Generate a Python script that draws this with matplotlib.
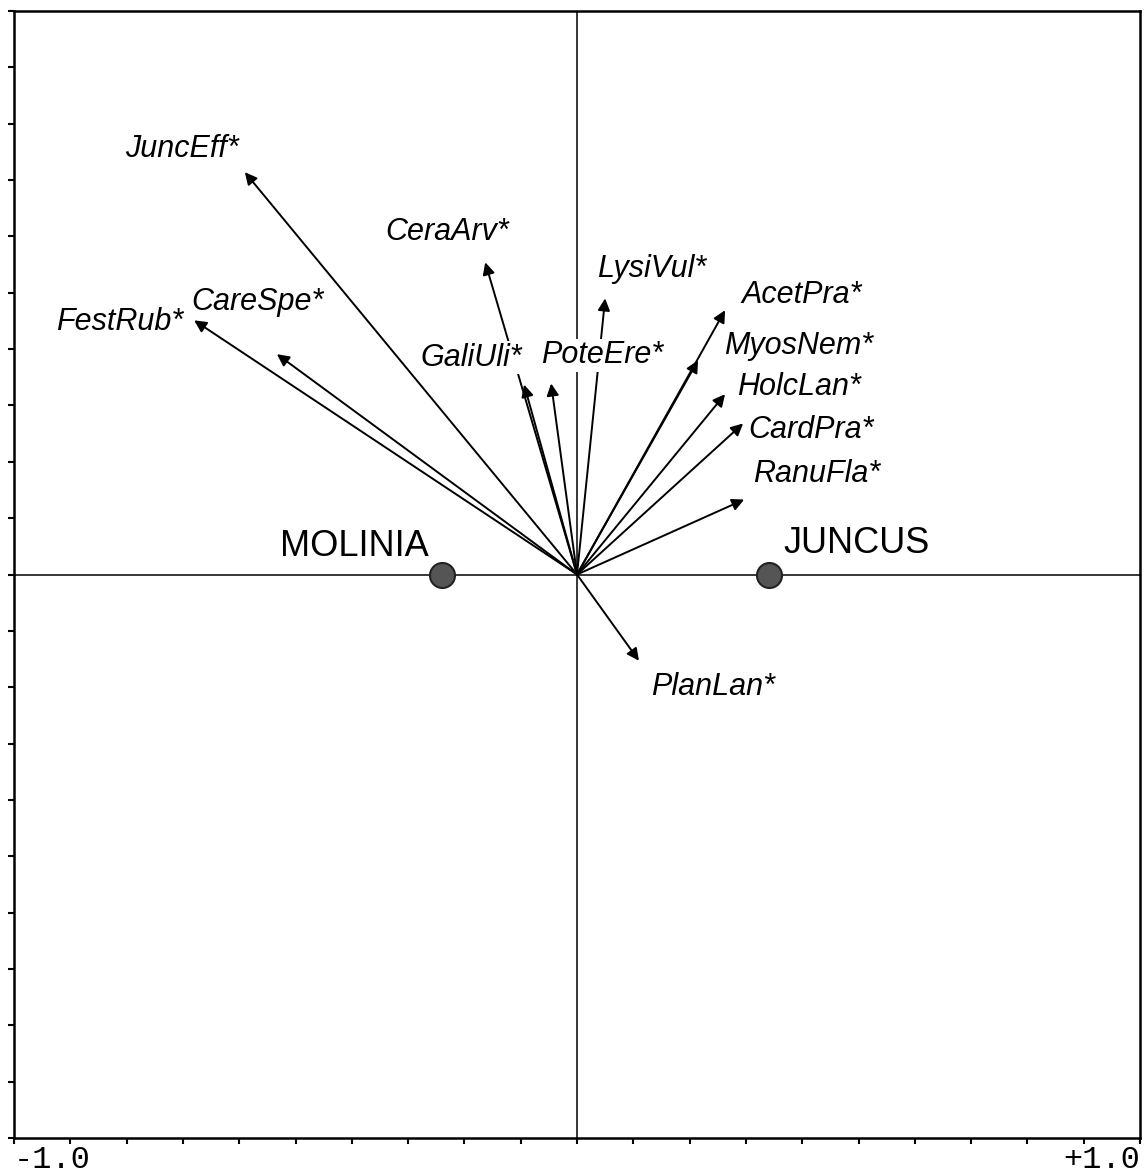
import matplotlib
matplotlib.use("Agg")
import matplotlib.pyplot as plt

# Species arrows (CCA biplot scores)
species = ["JuncEff*", "CeraArv*", "GaliUli*", "PoteEre*", "LysiVul*", "AcetPra*",
           "MyosNem*", "HolcLan*", "CardPra*", "RanuFla*", "FestRub*", "CareSpe*", "PlanLan*"]
species_x = [-0.590, -0.163, -0.094, -0.046, 0.050, 0.263,
             0.215, 0.263, 0.295, 0.297, -0.680, -0.533, 0.110]
species_y = [0.714, 0.554, 0.337, 0.339, 0.490, 0.469,
             0.380, 0.320, 0.268, 0.133, 0.451, 0.391, -0.153]
label_x = [-0.702, -0.231, -0.188, 0.044, 0.133, 0.400,
           0.394, 0.394, 0.416, 0.425, -0.812, -0.567, 0.242]
label_y = [0.755, 0.607, 0.385, 0.389, 0.542, 0.496,
           0.405, 0.332, 0.256, 0.178, 0.448, 0.483, -0.199]

# Nominal environmental variables (centroids)
centroids = ["MOLINIA", "JUNCUS"]
centroid_x = [-0.240, 0.341]
centroid_y = [0.0, 0.0]
centroid_label_x = [-0.396, 0.497]
centroid_label_y = [0.050, 0.055]

axis_min, axis_max = -1.0, 1.0
tick_labels = ["-1.0", "+1.0"]

fig = plt.figure(figsize=(11.46, 11.75), dpi=100)
ax = fig.add_axes([14 / 1146, 1 - 1138 / 1175, 1126 / 1146, 1127 / 1175])
ax.set_xlim(axis_min, axis_max)
ax.set_ylim(axis_min, axis_max)

for s in ax.spines.values():
    s.set_linewidth(1.8)
    s.set_color("black")

ticks = [round(axis_min + 0.1 * i, 1) for i in range(21)]
ax.set_xticks(ticks)
ax.set_yticks(ticks)
ax.set_xticklabels([])
ax.set_yticklabels([])
ax.tick_params(direction="out", length=4, width=1.5, colors="black")

ax.text(0.0, -0.0262, tick_labels[0], transform=ax.transAxes, ha="left", va="baseline",
        family="Liberation Mono", fontsize=23)
ax.text(1.0, -0.0262, tick_labels[1], transform=ax.transAxes, ha="right", va="baseline",
        family="Liberation Mono", fontsize=23)

# Center lines
ax.axhline(0, color="black", lw=1.1, zorder=1)
ax.axvline(0, color="black", lw=1.1, zorder=1)

# Arrows
for sx, sy in zip(species_x, species_y):
    ax.annotate("", xy=(sx, sy), xytext=(0, 0),
                arrowprops=dict(arrowstyle="-|>", color="black", lw=1.4,
                                mutation_scale=18, shrinkA=0, shrinkB=0),
                zorder=2)

for name, lx, ly in zip(species, label_x, label_y):
    ax.text(lx, ly, name, ha="center", va="center", fontsize=22, style="italic",
            family="Liberation Sans", zorder=4,
            bbox=dict(facecolor="white", edgecolor="none", pad=1))

# Centroids
ax.plot(centroid_x, centroid_y, "o", ms=18, mfc="#555555", mec="#222222", mew=1.5, zorder=5)
for name, lx, ly in zip(centroids, centroid_label_x, centroid_label_y):
    ax.text(lx, ly, name, ha="center", va="center", fontsize=26,
            family="Liberation Sans", zorder=4)

fig.savefig("out.png", dpi=100)
